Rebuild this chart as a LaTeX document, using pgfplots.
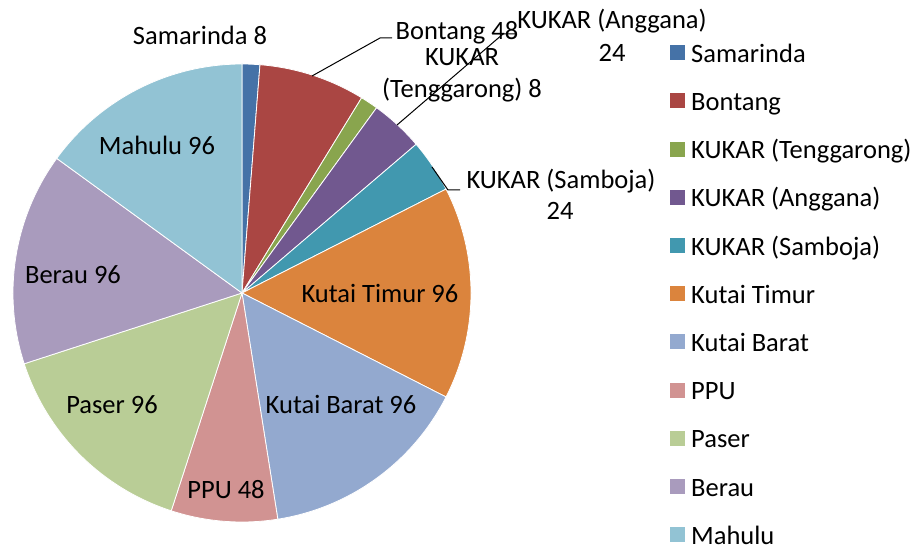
\documentclass[border=0pt]{standalone}
\usepackage{pgfplots}
\pgfplotsset{compat=1.18}
\usepackage{pgfplotstable}
\usepackage{fontspec}
\setmainfont{Carlito}

% slice colours, in table order
\definecolor{c0}{HTML}{4572A7}
\definecolor{c1}{HTML}{AA4643}
\definecolor{c2}{HTML}{89A54E}
\definecolor{c3}{HTML}{71588F}
\definecolor{c4}{HTML}{4198AF}
\definecolor{c5}{HTML}{DB843D}
\definecolor{c6}{HTML}{93A9CF}
\definecolor{c7}{HTML}{D19392}
\definecolor{c8}{HTML}{B9CD96}
\definecolor{c9}{HTML}{A99BBD}
\definecolor{c10}{HTML}{92C3D4}

\pgfplotstableread[col sep=comma]{
name,value
Samarinda,8
Bontang,48
KUKAR (Tenggarong),8
KUKAR (Anggana),24
KUKAR (Samboja),24
Kutai Timur,96
Kutai Barat,96
PPU,48
Paser,96
Berau,96
Mahulu,96
}\piedata

% total, then start/end angle of each slice (clockwise from the top)
\def\total{0}%
\pgfplotsforeachungrouped \i in {0,...,10}{%
  \pgfplotstablegetelem{\i}{value}\of\piedata
  \pgfmathsetmacro\total{\total+\pgfplotsretval}}%
\pgfmathsetmacro\degper{360/\total}%
\def\cum{0}%
\pgfplotsforeachungrouped \i in {0,...,10}{%
  \pgfplotstablegetelem{\i}{value}\of\piedata
  \pgfmathsetmacro\a{90-\cum*\degper}%
  \pgfmathsetmacro\cum{\cum+\pgfplotsretval}%
  \pgfmathsetmacro\b{90-\cum*\degper}%
  \expandafter\xdef\csname sliceA\i\endcsname{\a}%
  \expandafter\xdef\csname sliceB\i\endcsname{\b}}%

\newcommand\lblfont{\fontsize{26.5bp}{32bp}\selectfont}

\begin{document}
\begin{tikzpicture}[font=\lblfont]
\begin{axis}[
    x=1bp, y=1bp,
    xmin=0, xmax=923, ymin=0, ymax=551,
    y dir=reverse,
    hide axis,
    clip=false,
    legend image code/.code={\fill[#1] (0bp,-4bp) rectangle (15bp,11bp); \path (21bp,0bp);},
    legend style={
        at={(axis cs:670,44)}, anchor=north west,
        draw=none, fill=none, inner sep=0pt,
        row sep=24.2bp,
        nodes={inner sep=0pt, text height=18bp, text depth=6bp, font=\lblfont},
    },
    legend cell align=left,
]
\path (axis cs:0,0) rectangle (axis cs:923,551);

% slices
\pgfplotsinvokeforeach{0,...,10}{%
  \edef\tmp{\noexpand\fill[c#1, draw=white, line width=0.8bp] (axis cs:242,293) -- ([shift={(\csname sliceA#1\endcsname:229bp)}]axis cs:242,293) arc[start angle=\csname sliceA#1\endcsname, end angle=\csname sliceB#1\endcsname, radius=229bp] -- cycle;}\tmp
}

% legend
\pgfplotsinvokeforeach{0,...,10}{%
  \addlegendimage{fill=c#1, draw=none}
  \pgfplotstablegetelem{#1}{name}\of\piedata
  \addlegendentryexpanded{\pgfplotsretval}
}

% leader lines
\draw[line width=1bp] (axis cs:312,76) -- (axis cs:380,38) -- (axis cs:392,38);
\draw[line width=1bp] (axis cs:397,125) -- (axis cs:503,34) -- (axis cs:515,34);
\draw[line width=1bp] (axis cs:432,167) -- (axis cs:448,190) -- (axis cs:460,190);

% data labels
\node[anchor=base] at (axis cs:200,45) {Samarinda 8};
\node[anchor=base] at (axis cs:457,40) {Bontang 48};
\node[anchor=base] at (axis cs:462,66) {KUKAR};
\node[anchor=base] at (axis cs:462,98) {(Tenggarong) 8};
\node[anchor=base] at (axis cs:612,29) {KUKAR (Anggana)};
\node[anchor=base] at (axis cs:612,62) {24};
\node[anchor=base] at (axis cs:561,189) {KUKAR (Samboja)};
\node[anchor=base] at (axis cs:560,220) {24};
\node[anchor=base] at (axis cs:380,303) {Kutai Timur 96};
\node[anchor=base] at (axis cs:341,413) {Kutai Barat 96};
\node[anchor=base] at (axis cs:226,498) {PPU 48};
\node[anchor=base] at (axis cs:112,413) {Paser 96};
\node[anchor=base] at (axis cs:73,284) {Berau 96};
\node[anchor=base] at (axis cs:157,155) {Mahulu 96};
\end{axis}
\end{tikzpicture}
\end{document}
